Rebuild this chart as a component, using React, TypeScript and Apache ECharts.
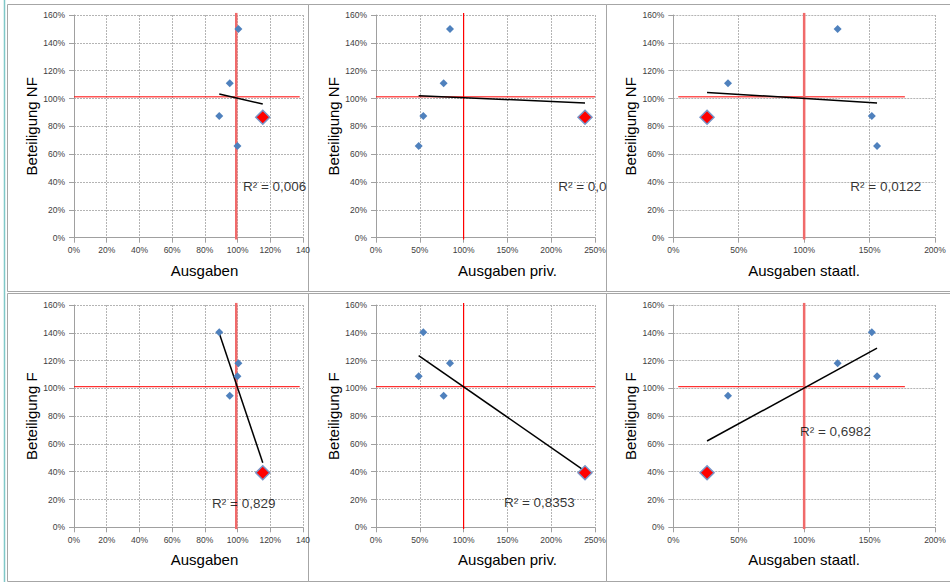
import { useEffect, useRef } from 'react';
import * as echarts from 'echarts';

// Entities A–D (blue) and the highlighted entity (red)
const ausgaben = [88.8, 95.2, 100.5, 99.9];
const ausgabenPriv = [54, 77.2, 84.5, 48.7];
const ausgabenStaatl = [151.7, 41.8, 125.6, 155.7];
const beteiligungNF = [87.4, 110.9, 150, 65.9];
const beteiligungF = [140.4, 94.7, 118, 108.7];

const hiAusgaben = 115.4;
const hiPriv = 238.6;
const hiStaatl = 25.8;
const hiNF = 86.5;
const hiF = 39.3;

// Trend line end points
const trendNF = [
  [[88.8, 103.2], [115.4, 96.0]],
  [[48.7, 102.0], [238.6, 96.8]],
  [[25.8, 104.4], [155.7, 96.8]],
];
const trendF = [
  [[88.8, 139.7], [115.4, 46.5]],
  [[48.7, 123.5], [238.6, 40.5]],
  [[25.8, 62.1], [155.7, 128.9]],
];

const r2Text = ['R² = 0,006', 'R² = 0,0', 'R² = 0,0122', 'R² = 0,829', 'R² = 0,8353', 'R² = 0,6982'];
const r2Pos = [[103.3, 36.6], [208, 36.6], [135.3, 36.6], [84.4, 17.3], [146, 18.2], [96.8, 68.8]];

const refY = 101.2;
const refX = [99.2, 100, 100];
const refHRange = [[0, 138], [0, 250], [3.8, 177]];
const refVRange = [-1.3, 161.5];

const xMax = [140, 250, 200];
const xInterval = [20, 50, 50];
const xTickLabels = [
  ['0%', '20%', '40%', '60%', '80%', '100%', '120%', '140'],
  ['0%', '50%', '100%', '150%', '200%', '250%'],
  ['0%', '50%', '100%', '150%', '200%'],
];
const yTickLabels = ['0%', '20%', '40%', '60%', '80%', '100%', '120%', '140%', '160%'];
const xNames = ['Ausgaben', 'Ausgaben priv.', 'Ausgaben staatl.'];
const yNames = ['Beteiligung NF', 'Beteiligung F'];

// layout
const colLeft = [74, 376, 673.3];
const colWidth = [229, 219, 261.7];
const rowTop = [15, 305];
const rowHeight = [222.7, 222.3];
const xNameShift = [16, 22, 0];
const vLineStyle = [
  { color: '#f06a6a', width: 2.5 },
  { color: '#ff0000', width: 1.2 },
  { color: '#f06a6a', width: 2.5 },
];

const FONT = 'Liberation Sans, Arial, sans-serif';
const AXIS_GRAY = '#a0a0a0';

function buildOption() {
  const grid: any[] = [];
  const xAxis: any[] = [];
  const yAxis: any[] = [];
  const series: any[] = [];
  const xs = [ausgaben, ausgabenPriv, ausgabenStaatl];
  const hx = [hiAusgaben, hiPriv, hiStaatl];
  for (let r = 0; r < 2; r++) {
    const ys = r === 0 ? beteiligungNF : beteiligungF;
    const hy = r === 0 ? hiNF : hiF;
    const trends = r === 0 ? trendNF : trendF;
    for (let c = 0; c < 3; c++) {
      const i = r * 3 + c;
      grid.push({
        left: colLeft[c],
        top: rowTop[r],
        width: colWidth[c],
        height: rowHeight[r],
        containLabel: false,
        outerBoundsMode: 'none',
      });
      const labels = xTickLabels[c];
      const iv = xInterval[c];
      xAxis.push({
        type: 'value',
        gridIndex: i,
        min: 0,
        max: xMax[c],
        interval: iv,
        name: xNames[c],
        nameLocation: 'middle',
        nameGap: 25,
        nameTextStyle: {
          fontFamily: FONT,
          fontSize: 15,
          color: '#000',
          padding: [0, 0, 0, xNameShift[c] * 2],
        },
        axisLine: { show: true, onZero: false, lineStyle: { color: AXIS_GRAY, width: 1 } },
        axisTick: { show: true, length: 5, lineStyle: { color: AXIS_GRAY } },
        axisLabel: {
          fontFamily: FONT,
          fontSize: 8.5,
          color: '#404040',
          margin: 8,
          showMinLabel: true,
          showMaxLabel: true,
          hideOverlap: false,
          formatter: (v: number) => labels[Math.round(v / iv)] ?? '',
        },
        splitLine: { show: true, lineStyle: { color: '#b4b4b4', type: [2, 1], width: 1 } },
      });
      yAxis.push({
        type: 'value',
        gridIndex: i,
        min: 0,
        max: 160,
        interval: 20,
        name: yNames[r],
        nameLocation: 'middle',
        nameGap: 35,
        nameRotate: 90,
        nameTextStyle: { fontFamily: FONT, fontSize: 15, color: '#000' },
        axisLine: { show: true, onZero: false, lineStyle: { color: AXIS_GRAY, width: 1 } },
        axisTick: { show: true, length: 5, lineStyle: { color: AXIS_GRAY } },
        axisLabel: {
          fontFamily: FONT,
          fontSize: 8.5,
          color: '#404040',
          margin: 9,
          showMinLabel: true,
          showMaxLabel: true,
          formatter: (v: number) => yTickLabels[Math.round(v / 20)] ?? '',
        },
        splitLine: { show: true, lineStyle: { color: '#b4b4b4', type: [2, 1], width: 1 } },
      });
      // horizontal reference
      series.push({
        type: 'line',
        xAxisIndex: i,
        yAxisIndex: i,
        data: [[refHRange[c][0], refY], [refHRange[c][1], refY]],
        symbol: 'none',
        clip: false,
        lineStyle: { color: '#ff0000', width: 1 },
        silent: true,
        z: 2,
      });
      // vertical reference
      series.push({
        type: 'line',
        xAxisIndex: i,
        yAxisIndex: i,
        data: [[refX[c], refVRange[0]], [refX[c], refVRange[1]]],
        symbol: 'none',
        clip: false,
        lineStyle: { color: vLineStyle[c].color, width: vLineStyle[c].width },
        silent: true,
        z: 2,
      });
      // trend line
      series.push({
        type: 'line',
        xAxisIndex: i,
        yAxisIndex: i,
        data: trends[c],
        symbol: 'none',
        clip: false,
        lineStyle: { color: '#000', width: 1.5 },
        silent: true,
        z: 3,
      });
      // blue points
      series.push({
        type: 'scatter',
        xAxisIndex: i,
        yAxisIndex: i,
        data: xs[c].map((x, k) => [x, ys[k]]),
        symbol: 'diamond',
        symbolSize: 8,
        itemStyle: { color: '#4F81BD', opacity: 1 },
        z: 4,
      });
      // highlighted point
      series.push({
        type: 'scatter',
        xAxisIndex: i,
        yAxisIndex: i,
        data: [[hx[c], hy]],
        symbol: 'diamond',
        symbolSize: 14,
        itemStyle: { color: '#ff0000', borderColor: '#7895c8', borderWidth: 1.5, opacity: 1 },
        z: 5,
      });
      // R² label
      series.push({
        type: 'scatter',
        xAxisIndex: i,
        yAxisIndex: i,
        data: [r2Pos[i]],
        symbolSize: 0,
        silent: true,
        label: {
          show: true,
          position: [0, 0],
          align: 'left',
          verticalAlign: 'middle',
          formatter: r2Text[i],
          fontFamily: FONT,
          fontSize: 13.5,
          color: '#000',
        },
        z: 6,
      });
    }
  }

  const border = { fill: 'none', stroke: '#a6a6a6', lineWidth: 1 };
  const graphic: any[] = [
    { type: 'rect', shape: { x: 7.5, y: 4.5, width: 301, height: 287 }, style: border, silent: true },
    { type: 'rect', shape: { x: 308.5, y: 4.5, width: 298, height: 287 }, style: border, silent: true },
    { type: 'rect', shape: { x: 606.5, y: 4.5, width: 360, height: 287 }, style: border, silent: true },
    { type: 'rect', shape: { x: 7.5, y: 293.5, width: 301, height: 288 }, style: border, silent: true },
    { type: 'rect', shape: { x: 308.5, y: 293.5, width: 298, height: 288 }, style: border, silent: true },
    { type: 'rect', shape: { x: 606.5, y: 293.5, width: 360, height: 288 }, style: border, silent: true },
    { type: 'line', shape: { x1: 4.5, y1: 0, x2: 4.5, y2: 582 }, style: { stroke: '#80c8c8', lineWidth: 1.5 }, silent: true },
  ];

  return {
    animation: false,
    backgroundColor: '#ffffff',
    grid,
    xAxis,
    yAxis,
    series,
    graphic,
  };
}

export default function App() {
  const ref = useRef<HTMLDivElement>(null);
  useEffect(() => {
    if (!ref.current) return;
    const chart = echarts.init(ref.current, undefined, { renderer: 'svg' });
    chart.setOption(buildOption() as any);
    return () => chart.dispose();
  }, []);
  return (
    <div
      ref={ref}
      style={{ position: 'fixed', left: 0, top: 0, width: 950, height: 587, background: '#fff' }}
    />
  );
}
